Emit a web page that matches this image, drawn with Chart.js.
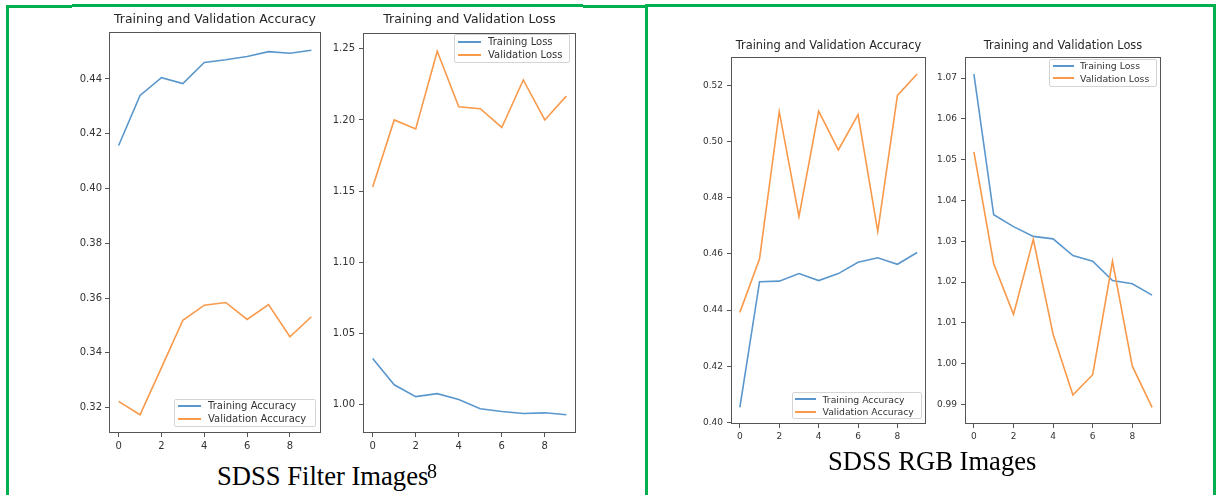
<!DOCTYPE html>
<html><head><meta charset="utf-8">
<script src="https://cdn.jsdelivr.net/npm/chart.js@4.4.1/dist/chart.umd.min.js"></script>
<style>
html,body{margin:0;padding:0;background:#fff;}
body{width:1216px;height:495px;position:relative;overflow:hidden;font-family:"DejaVu Sans",sans-serif;}
.g{position:absolute;background:#00b050;}
canvas{position:absolute;}
.title{position:absolute;text-align:center;white-space:nowrap;color:#262626;}
.legend{position:absolute;box-sizing:border-box;border:1px solid #d4d4d4;border-radius:2px;background:rgba(255,255,255,0.8);}
.li{position:absolute;white-space:nowrap;color:#333;}
.hl{position:absolute;height:2px;}
.cap{position:absolute;font-family:"Liberation Serif","Times New Roman",serif;color:#000;white-space:nowrap;}
</style></head>
<body>
<div class="g" style="left:6px;top:5px;width:3px;height:490px;"></div>
<div class="g" style="left:645px;top:4px;width:3px;height:491px;"></div>
<div class="g" style="left:1213px;top:4px;width:3px;height:491px;"></div>
<div class="g" style="left:6px;top:5px;width:66px;height:2.5px;"></div>
<div class="g" style="left:72px;top:4px;width:511px;height:2.5px;"></div>
<div class="g" style="left:583px;top:5.3px;width:64px;height:2.5px;"></div>
<div class="g" style="left:645px;top:4.3px;width:571px;height:2.5px;"></div>

<canvas id="cA"></canvas>
<canvas id="cB"></canvas>
<canvas id="cC"></canvas>
<canvas id="cD"></canvas>

<div class="cap" id="capL" style="left:217px;top:463px;font-size:26.6px;line-height:26px;"></div>
<div class="cap" id="capLsup" style="left:427px;top:460.5px;font-size:20px;line-height:20px;"></div>
<div class="cap" id="capR" style="left:828px;top:448px;font-size:26.6px;line-height:26px;"></div>

<script>
// ---- data ----
const epochs = [0, 1, 2, 3, 4, 5, 6, 7, 8, 9];
const xTicks = [0, 2, 4, 6, 8];

// SDSS Filter Images
const filterTrainAcc  = [0.4157, 0.4340, 0.4405, 0.4383, 0.4460, 0.4470, 0.4482, 0.4500, 0.4494, 0.4505];
const filterValAcc    = [0.3223, 0.3174, 0.3346, 0.3519, 0.3574, 0.3584, 0.3522, 0.3576, 0.3459, 0.3532];
const filterTrainLoss = [1.0323, 1.0139, 1.0056, 1.0077, 1.0035, 0.9970, 0.9951, 0.9937, 0.9942, 0.9928];
const filterValLoss   = [1.1528, 1.2000, 1.1937, 1.2483, 1.2093, 1.2079, 1.1947, 1.2281, 1.2000, 1.2167];

// SDSS RGB Images
const rgbTrainAcc  = [0.4054, 0.4501, 0.4503, 0.4530, 0.4505, 0.4530, 0.4570, 0.4586, 0.4563, 0.4605];
const rgbValAcc    = [0.4392, 0.4583, 0.5106, 0.4733, 0.5108, 0.4970, 0.5096, 0.4680, 0.5164, 0.5240];
const rgbTrainLoss = [1.0710, 1.0365, 1.0336, 1.0312, 1.0306, 1.0265, 1.0251, 1.0204, 1.0196, 1.0168];
const rgbValLoss   = [1.0519, 1.0245, 1.0121, 1.0305, 1.0072, 0.9923, 0.9973, 1.0251, 0.9994, 0.9893];

const filterAccTicks  = [0.32, 0.34, 0.36, 0.38, 0.40, 0.42, 0.44];
const filterLossTicks = [1.00, 1.05, 1.10, 1.15, 1.20, 1.25];
const rgbAccTicks     = [0.40, 0.42, 0.44, 0.46, 0.48, 0.50, 0.52];
const rgbLossTicks    = [0.99, 1.00, 1.01, 1.02, 1.03, 1.04, 1.05, 1.06, 1.07];

const accLabels  = ['Training Accuracy', 'Validation Accuracy'];
const lossLabels = ['Training Loss', 'Validation Loss'];
const accTitle  = 'Training and Validation Accuracy';
const lossTitle = 'Training and Validation Loss';
const captionFilter = 'SDSS Filter Images';
const captionFilterNote = '8';
const captionRGB = 'SDSS RGB Images';

// ---- style ----
const BLUE = '#5a97cd', ORANGE = '#f9994a', SPINE = '#555';

const framePlugin = {
  id: 'frame',
  afterDraw(chart) {
    const {ctx, chartArea: a} = chart;
    ctx.save();
    ctx.strokeStyle = SPINE; ctx.lineWidth = 1;
    ctx.strokeRect(Math.round(a.left) + 0.5, Math.round(a.top) + 0.5,
                   Math.round(a.right - a.left) - 1, Math.round(a.bottom - a.top) - 1);
    ctx.restore();
  }
};

function makeChart(id, box, yTicks, tickFont, tickPad, train, val, labels) {
  const canvas = document.getElementById(id);
  const yW = 52, xH = 26, padT = 6, padR = 6;
  canvas.width = box.w + yW + padR;
  canvas.height = box.h + padT + xH;
  canvas.style.left = (box.x - yW) + 'px';
  canvas.style.top = (box.y - padT) + 'px';
  const all = train.concat(val);
  const lo = Math.min(...all), hi = Math.max(...all), m = (hi - lo) * 0.05;
  const tickOpts = {font: {family: 'DejaVu Sans', size: tickFont}, color: '#333', autoSkip: false, maxRotation: 0, minRotation: 0};
  const gridOpts = {drawOnChartArea: false, drawTicks: true, tickLength: 4, color: SPINE, lineWidth: 1};
  new Chart(canvas, {
    type: 'line',
    data: {datasets: [
      {label: labels[0], data: epochs.map((e, i) => ({x: e, y: train[i]})), borderColor: BLUE, backgroundColor: BLUE,
       borderWidth: 1.6, pointRadius: 0, tension: 0, fill: false, order: 1},
      {label: labels[1], data: epochs.map((e, i) => ({x: e, y: val[i]})), borderColor: ORANGE, backgroundColor: ORANGE,
       borderWidth: 1.6, pointRadius: 0, tension: 0, fill: false, order: 0}
    ]},
    options: {
      responsive: false, animation: false,
      layout: {padding: {top: padT, right: padR, left: 0, bottom: 0}},
      plugins: {legend: {display: false}, title: {display: false}, tooltip: {enabled: false}},
      scales: {
        x: {type: 'linear', min: -0.45, max: 9.45,
            afterFit: s => { s.height = xH; },
            afterBuildTicks: s => { s.ticks = xTicks.map(v => ({value: v})); },
            ticks: Object.assign({}, tickOpts, {padding: 3, callback: v => String(v)}),
            grid: gridOpts, border: {display: false}},
        y: {type: 'linear', min: lo - m, max: hi + m,
            afterFit: s => { s.width = yW; },
            afterBuildTicks: s => { s.ticks = yTicks.map(v => ({value: v})); },
            ticks: Object.assign({}, tickOpts, {padding: tickPad, callback: v => Number(v).toFixed(2)}),
            grid: gridOpts, border: {display: false}}
      }
    },
    plugins: [framePlugin]
  });
}

function makeTitle(text, box, size, top) {
  const d = document.createElement('div');
  d.className = 'title';
  d.textContent = text;
  d.style.left = box.x + 'px'; d.style.width = box.w + 'px';
  d.style.top = top + 'px'; d.style.fontSize = size + 'px'; d.style.lineHeight = size + 'px';
  document.body.appendChild(d);
}

function makeLegend(spec, labels) {
  const d = document.createElement('div');
  d.className = 'legend';
  d.style.left = spec.x + 'px'; d.style.top = spec.y + 'px';
  d.style.width = spec.w + 'px'; d.style.height = spec.h + 'px';
  const colors = [BLUE, ORANGE];
  labels.forEach((lab, i) => {
    const ry = spec.rows[i] - spec.y - 1;
    const l = document.createElement('div');
    l.className = 'hl';
    l.style.left = (spec.hx0 - spec.x - 1) + 'px';
    l.style.width = (spec.hx1 - spec.hx0) + 'px';
    l.style.top = (ry - 1) + 'px';
    l.style.background = colors[i];
    d.appendChild(l);
    const t = document.createElement('div');
    t.className = 'li';
    t.textContent = lab;
    t.style.left = (spec.tx - spec.x - 1) + 'px';
    t.style.fontSize = spec.font + 'px';
    t.style.lineHeight = (spec.font * 1.2) + 'px';
    t.style.top = (ry - spec.font * 0.6) + 'px';
    d.appendChild(t);
  });
  document.body.appendChild(d);
}

const boxA = {x: 109, y: 29, w: 212, h: 404};
const boxB = {x: 363, y: 29, w: 213, h: 404};
const boxC = {x: 731, y: 54, w: 195, h: 370};
const boxD = {x: 965, y: 54, w: 196, h: 370};

makeChart('cA', boxA, filterAccTicks, 10, 3, filterTrainAcc, filterValAcc, accLabels);
makeChart('cB', boxB, filterLossTicks, 10, 4, filterTrainLoss, filterValLoss, lossLabels);
makeChart('cC', boxC, rgbAccTicks, 9, 4, rgbTrainAcc, rgbValAcc, accLabels);
makeChart('cD', boxD, rgbLossTicks, 9, 4, rgbTrainLoss, rgbValLoss, lossLabels);

makeTitle(accTitle, boxA, 12.4, 12.8);
makeTitle(lossTitle, boxB, 12.4, 12.8);
makeTitle(accTitle, boxC, 11.4, 39.7);
makeTitle(lossTitle, boxD, 11.4, 39.7);

makeLegend({x: 174, y: 398.5, w: 142, h: 28, hx0: 177.5, hx1: 200.5, tx: 208, rows: [405.7, 419.3], font: 10}, accLabels);
makeLegend({x: 454, y: 33.5, w: 116, h: 29.5, hx0: 457.5, hx1: 480.5, tx: 488, rows: [41.5, 55], font: 10}, lossLabels);
makeLegend({x: 791.5, y: 392, w: 130, h: 26.5, hx0: 795, hx1: 815.5, tx: 822.5, rows: [399.3, 412], font: 9.3}, accLabels);
makeLegend({x: 1049, y: 58.5, w: 108, h: 28.5, hx0: 1052.5, hx1: 1073.5, tx: 1080, rows: [65.7, 78.3], font: 9.3}, lossLabels);

document.getElementById('capL').textContent = captionFilter;
document.getElementById('capLsup').textContent = captionFilterNote;
document.getElementById('capR').textContent = captionRGB;
</script>
</body></html>
